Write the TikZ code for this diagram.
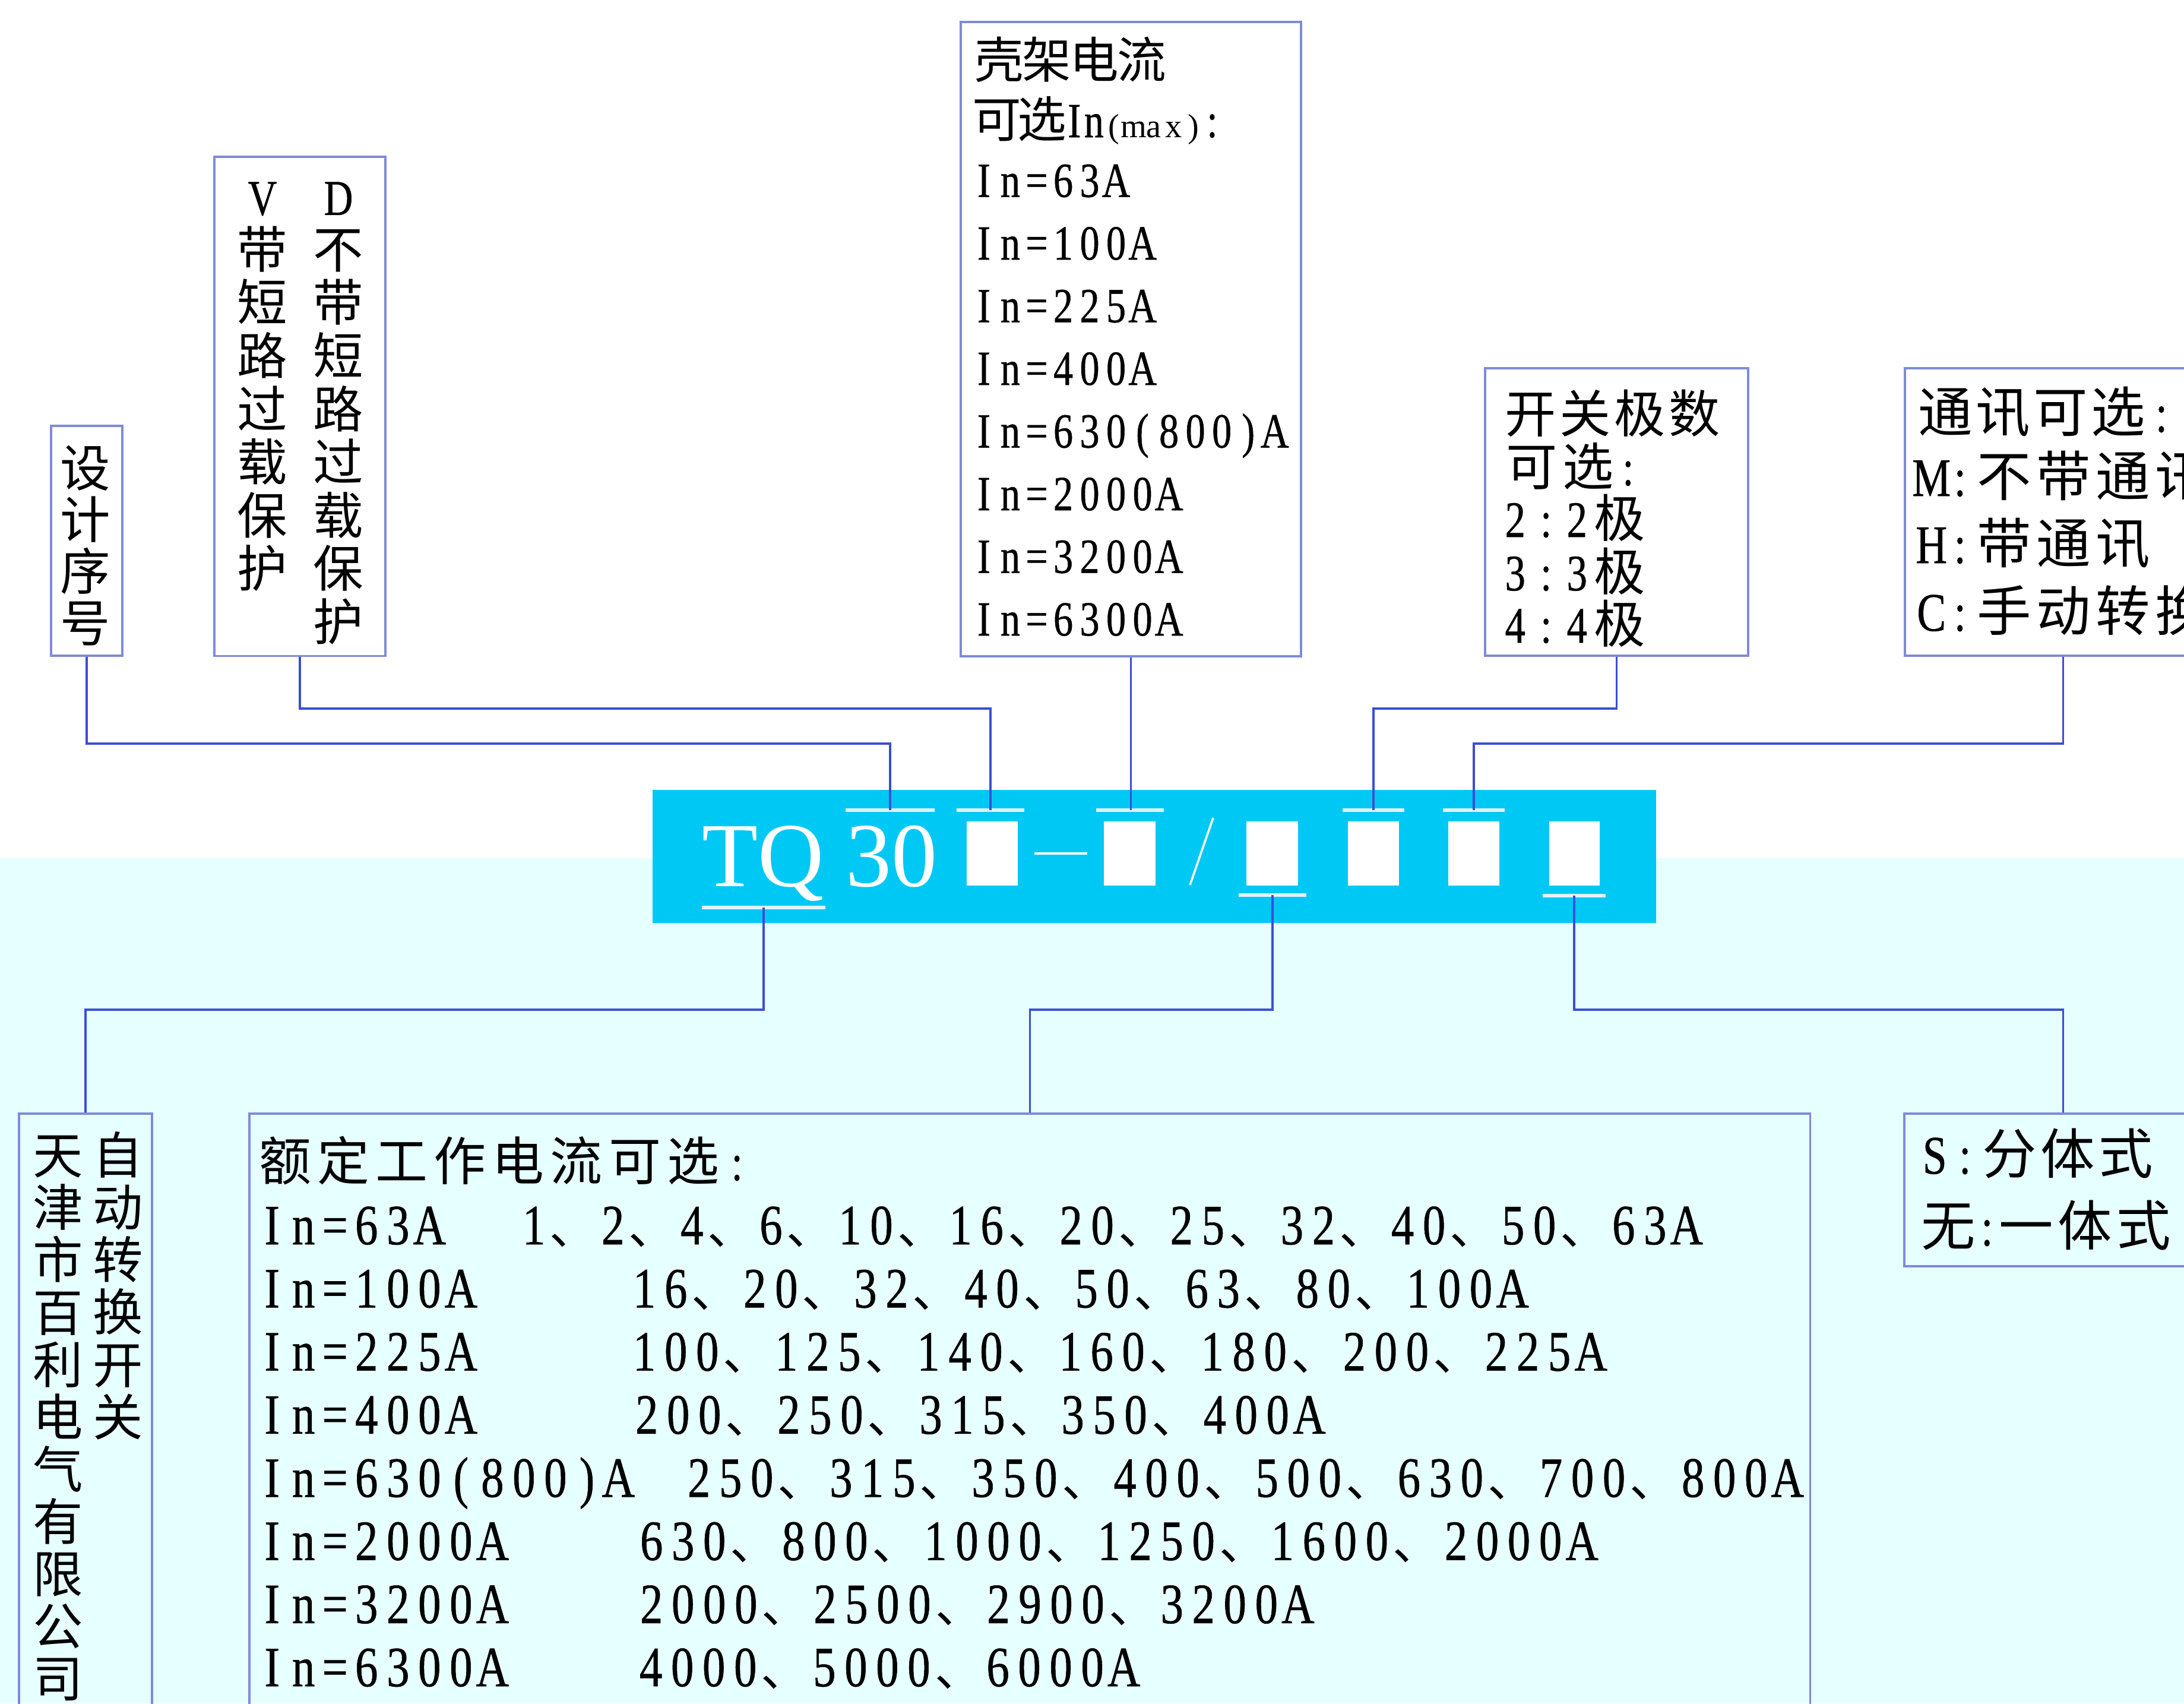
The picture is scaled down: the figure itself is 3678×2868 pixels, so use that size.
\documentclass[tikz,border=0pt]{standalone}
\usepackage{fontspec}
\setmainfont{Liberation Serif}
\newfontfamily\enf{Liberation Serif}[FakeStretch=0.8,FakeBold=0.6]
\newfontfamily\zhf{Noto Sans CJK SC}
\definecolor{bandc}{RGB}{0,200,245}
\definecolor{lowbg}{RGB}{230,255,255}
\definecolor{boxc}{RGB}{128,138,214}
\definecolor{linec}{RGB}{60,78,210}
\definecolor{ovc}{RGB}{225,242,248}
\makeatletter
\newcommand\Lr[2]{\@tfor\tmpc:=#2\do{\makebox[#1][c]{\tmpc}}}
\newcommand\Zr[2]{{\zhf\@tfor\tmpc:=#2\do{\makebox[#1][c]{\tmpc}}}}
\def\dunhao{、}
\newcommand\Vals[1]{\@tfor\tmpc:=#1\do{\ifx\tmpc\dunhao\makebox[0.80cm][l]{\zhf\fontsize{22.5}{26}\selectfont\tmpc}\else\makebox[0.53cm][c]{\tmpc}\fi}}
\newcommand\Vr[2]{\vbox{\offinterlineskip\@tfor\tmpc:=#2\do{\hbox to 0pt{\hss\vrule height\dimexpr#1+.38em\relax depth\dimexpr#1-.38em\relax width0pt\tmpc\hss}}}}
\makeatother
\newcommand\fA{\zhf\fontsize{24}{28}\selectfont}
\newcommand\fB{\enf\fontsize{23.5}{28}\selectfont}
\newcommand\fC{\enf\fontsize{24.5}{28}\selectfont}
\newcommand\fD{\enf\fontsize{26}{30}\selectfont}
\newcommand\fE{\enf\fontsize{27.3}{31}\selectfont}
\newcommand\fF{\zhf\fontsize{25}{30}\selectfont}
\begin{document}
\begin{tikzpicture}[x=0.01cm,y=-0.01cm,
  box/.style={draw=boxc,line width=1.1pt,inner sep=0pt,anchor=north west},
  conn/.style={draw=linec,line width=0.9pt},
  txt/.style={inner sep=0pt,anchor=base west},
  vtxt/.style={inner sep=0pt,anchor=north,font=\fA},
  ovl/.style={draw=ovc,line width=1.6pt}]
\useasboundingbox (0,0) rectangle (3678,2868);
\clip (0,0) rectangle (3678,2868);
\fill[white] (0,0) rectangle (3678,1445);
\fill[lowbg] (0,1445) rectangle (3678,2868);

% central code band
\node[fill=bandc,inner sep=0pt,anchor=north west,minimum width=16.89cm,minimum height=2.24cm] (band) at (1098,1329) {};
\fill[white] (1628,1383) rectangle (1714,1491);
\fill[white] (1859,1383) rectangle (1946,1491);
\fill[white] (2099,1383) rectangle (2186,1491);
\fill[white] (2270,1383) rectangle (2356,1491);
\fill[white] (2439,1383) rectangle (2525,1491);
\fill[white] (2609,1383) rectangle (2694,1491);
\draw[white,line width=1.2pt] (1742,1437) -- (1831,1437);
\draw[white,line width=1pt] (2043,1377) -- (2004,1490);
\node[txt,text=white,font=\fontsize{43.8}{50}\selectfont] (tq) at (1182,1492) {TQ};
\node[txt,text=white,font=\fontsize{43.8}{50}\selectfont] (n30) at (1424,1492) {30};
\draw[ovl] (1424,1364) -- (1574,1364);
\draw[ovl] (1611,1364) -- (1725,1364);
\draw[ovl] (1846,1364) -- (1960,1364);
\draw[ovl] (2261,1364) -- (2365,1364);
\draw[ovl] (2430,1364) -- (2534,1364);
\draw[ovl] (1182,1528) -- (1390,1528);
\draw[ovl] (2086,1507) -- (2200,1507);
\draw[ovl] (2598,1508) -- (2704,1508);

% boxes
\node[box,fill=white,minimum width=1.20cm,minimum height=3.87cm] (b1) at (84,715) {};
\node[box,fill=white,minimum width=2.88cm,minimum height=8.40cm] (b2) at (359,262) {};
\node[box,fill=white,minimum width=5.73cm,minimum height=10.67cm] (b3) at (1616,35) {};
\node[box,fill=white,minimum width=4.43cm,minimum height=4.84cm] (b4) at (2499,618) {};
\node[box,fill=white,minimum width=5.32cm,minimum height=4.84cm] (b5) at (3206,618) {};
\node[box,minimum width=2.24cm,minimum height=10.80cm] (b6) at (30,1873) {};
\node[box,minimum width=26.27cm,minimum height=10.80cm] (b7) at (418,1873) {};
\node[box,minimum width=5.34cm,minimum height=2.57cm] (b8) at (3205,1873) {};

% connector points
\coordinate (o30) at (1499,1364);
\coordinate (o1) at (1668,1364);
\coordinate (o2) at (1903,1364);
\coordinate (o4) at (2313,1364);
\coordinate (o5) at (2482,1364);
\coordinate (u0) at (1286,1528);
\coordinate (u3) at (2143,1507);
\coordinate (u6) at (2651,1508);
\coordinate (h1) at (0,1252);
\coordinate (h2) at (0,1193);
\coordinate (h3) at (0,1700);
\draw[conn] (b1.south) -- (b1.south |- h1) -| (o30);
\draw[conn] (b2.south) -- (b2.south |- h2) -| (o1);
\draw[conn] (b3.south) -- (b3.south |- o2);
\draw[conn] (b4.south) -- (b4.south |- h2) -| (o4);
\draw[conn] (b5.south) -- (b5.south |- h1) -| (o5);
\draw[conn] (u0) -- (u0 |- h3) -| (b6.north);
\draw[conn] (u3) -- (u3 |- h3) -| (b7.north);
\draw[conn] (u6) -- (u6 |- h3) -| (b8.north);

% vertical texts
\node[vtxt] (v1) at (144,743.5) {\Vr{0.435cm}{设计序号}};
\node[vtxt] (v2) at (442,284.25) {\Vr{0.4475cm}{{\enf V}带短路过载保护}};
\node[vtxt] (v3) at (570,284.25) {\Vr{0.4475cm}{{\enf D}不带短路过载保护}};
\node[vtxt] (v4) at (199,1900) {\Vr{0.44cm}{自动转换开关}};
\node[vtxt] (v5) at (98,1900) {\Vr{0.44cm}{天津市百利电气有限公司}};

% frame current box
\node[txt,font=\fB] (k1) at (1642,131) {\Zr{0.80cm}{壳架电流}};
\node[txt,font=\fB] (k2) at (1640,231) {\Zr{0.76cm}{可选}\Lr{0.33cm}{In}{\rmfamily\fontsize{16}{18}\selectfont\Lr{0.335cm}{(max)}}\Lr{0.30cm}{:}};
\node[txt,font=\fB] (k3) at (1634,331.5) {\Lr{0.445cm}{In=63A}};
\node[txt,font=\fB] (k4) at (1634,437) {\Lr{0.445cm}{In=100A}};
\node[txt,font=\fB] (k5) at (1634,542.5) {\Lr{0.445cm}{In=225A}};
\node[txt,font=\fB] (k6) at (1634,648) {\Lr{0.445cm}{In=400A}};
\node[txt,font=\fB] (k7) at (1634,753.5) {\Lr{0.445cm}{In=630(800)A}};
\node[txt,font=\fB] (k8) at (1634,859) {\Lr{0.445cm}{In=2000A}};
\node[txt,font=\fB] (k9) at (1634,964.5) {\Lr{0.445cm}{In=3200A}};
\node[txt,font=\fB] (k10) at (1634,1070) {\Lr{0.445cm}{In=6300A}};

% poles box
\node[txt,font=\fC] (j1) at (2531,728) {\Zr{0.92cm}{开关极数}};
\node[txt,font=\fC] (j2) at (2531,817) {\Zr{0.95cm}{可选}\Lr{0.40cm}{:}};
\node[txt,font=\fC] (j3) at (2525,904) {\Lr{0.52cm}{2:2}\Zr{0.92cm}{极}};
\node[txt,font=\fC] (j4) at (2525,994) {\Lr{0.52cm}{3:3}\Zr{0.92cm}{极}};
\node[txt,font=\fC] (j5) at (2525,1082) {\Lr{0.52cm}{4:4}\Zr{0.92cm}{极}};

% communication box
\node[txt,font=\fD] (m1) at (3227,727) {\Zr{0.97cm}{通讯可选}\Lr{0.48cm}{:}};
\node[txt,font=\fD] (m2) at (3228,835) {\Lr{0.48cm}{M:}\Zr{1.0cm}{不带通讯}};
\node[txt,font=\fD] (m3) at (3228,948) {\Lr{0.48cm}{H:}\Zr{1.0cm}{带通讯}};
\node[txt,font=\fD] (m4) at (3228,1062) {\Lr{0.48cm}{C:}\Zr{1.0cm}{手动转换}};

% type box
\node[txt,font=\fD] (s1) at (3232,1976) {\Lr{0.51cm}{S:}\Zr{0.98cm}{分体式}};
\node[txt,font=\fD] (s2) at (3231,2097) {\Zr{0.98cm}{无}\makebox[0.33cm][c]{:}\Zr{0.99cm}{一体式}};

% rated current box
\node[txt,font=\fF] (t0) at (431,1987) {\Zr{0.98cm}{额定工作电流可选}{\enf\makebox[0.5cm][c]{:}}};
\node[txt,font=\fE] (r1a) at (431,2095) {\Lr{0.53cm}{In=63A}};
\node[txt,font=\fE] (r1b) at (872,2095) {\Vals{1、2、4、6、10、16、20、25、32、40、50、63A}};
\node[txt,font=\fE] (r2a) at (431,2201.3) {\Lr{0.53cm}{In=100A}};
\node[txt,font=\fE] (r2b) at (1058,2201.3) {\Vals{16、20、32、40、50、63、80、100A}};
\node[txt,font=\fE] (r3a) at (431,2307.6) {\Lr{0.53cm}{In=225A}};
\node[txt,font=\fE] (r3b) at (1058,2307.6) {\Vals{100、125、140、160、180、200、225A}};
\node[txt,font=\fE] (r4a) at (431,2413.9) {\Lr{0.53cm}{In=400A}};
\node[txt,font=\fE] (r4b) at (1062,2413.9) {\Vals{200、250、315、350、400A}};
\node[txt,font=\fE] (r5a) at (431,2520.2) {\Lr{0.53cm}{In=630(800)A}};
\node[txt,font=\fE] (r5b) at (1150,2520.2) {\Vals{250、315、350、400、500、630、700、800A}};
\node[txt,font=\fE] (r6a) at (431,2626.5) {\Lr{0.53cm}{In=2000A}};
\node[txt,font=\fE] (r6b) at (1070,2626.5) {\Vals{630、800、1000、1250、1600、2000A}};
\node[txt,font=\fE] (r7a) at (431,2732.8) {\Lr{0.53cm}{In=3200A}};
\node[txt,font=\fE] (r7b) at (1070,2732.8) {\Vals{2000、2500、2900、3200A}};
\node[txt,font=\fE] (r8a) at (431,2839.1) {\Lr{0.53cm}{In=6300A}};
\node[txt,font=\fE] (r8b) at (1069,2839.1) {\Vals{4000、5000、6000A}};
\end{tikzpicture}
\end{document}
